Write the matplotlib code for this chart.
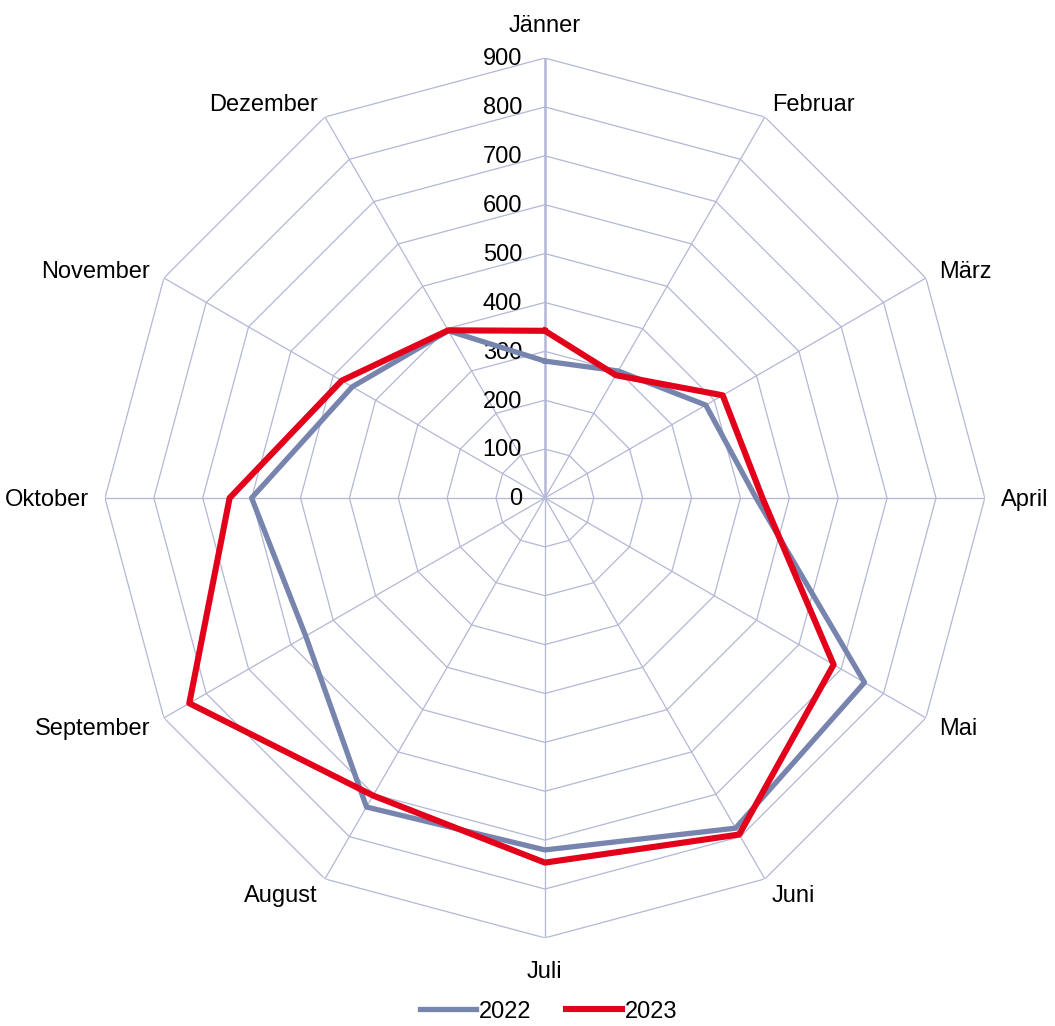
import numpy as np
import matplotlib
matplotlib.use('Agg')
import matplotlib.pyplot as plt

plt.rcParams['font.family'] = ['Liberation Sans', 'DejaVu Sans']

months = ['Jänner', 'Februar', 'März', 'April', 'Mai', 'Juni',
          'Juli', 'August', 'September', 'Oktober', 'November', 'Dezember']
v2022 = [280, 300, 380, 432, 755, 780, 720, 730, 565, 600, 455, 395]
v2023 = [342, 290, 420, 445, 682, 795, 746, 703, 840, 645, 480, 396]
rticks = [0, 100, 200, 300, 400, 500, 600, 700, 800, 900]

grid_c = '#b3b7d6'
c2022 = '#7784ad'
c2023 = '#e2001a'
fs = 17

n = len(months)
ang = np.linspace(0, 2 * np.pi, n, endpoint=False)
ang_c = np.append(ang, ang[0])

fig = plt.figure(figsize=(10.55, 10.26), dpi=100)
ax = fig.add_axes([0.0995, 0.0858, 0.834, 0.8577], projection='polar')
ax.set_theta_zero_location('N')
ax.set_theta_direction(-1)
ax.set_ylim(0, 900)
ax.grid(False)
ax.spines['polar'].set_visible(False)
ax.set_xticks([])
ax.set_yticks([])

# polygon rings
for r in rticks[1:]:
    ax.plot(ang_c, [r] * (n + 1), color=grid_c, lw=0.9, zorder=1)
# spokes
for i, a in enumerate(ang):
    ax.plot([a, a], [0, 900], color=grid_c, lw=1.8 if i == 0 else 0.9, zorder=1)

# value labels
for r in rticks:
    ax.annotate(str(r), xy=(0, r), xytext=(-16.5, -1), textcoords='offset points',
                ha='right', va='center', fontsize=fs, color='black')

# month labels, anchored at the outer vertex
pt = 72 / 100
for a, m in zip(ang, months):
    s, c = np.sin(a), np.cos(a)
    if abs(s) < 0.1:
        ha, dx, dy = 'center', 0, 33 * c - 1
    else:
        ha = 'left' if s > 0 else 'right'
        dx, dy = (16 * s + (-2 if s > 0 else 2) * (1 - abs(s))), 17 * c - 2.5
    ax.annotate(m, xy=(a, 900), xytext=(dx * pt, dy * pt), textcoords='offset points',
                ha=ha, va='center', fontsize=fs, color='black')

l1, = ax.plot(ang_c, v2022 + v2022[:1], color=c2022, lw=3.8, zorder=3, label='2022')
l2, = ax.plot(ang_c, v2023 + v2023[:1], color=c2023, lw=4.4, zorder=4, label='2023')

fig.legend(handles=[l1, l2], loc='center', bbox_to_anchor=(0.52, 0.014), ncol=2,
           frameon=False, fontsize=fs, handlelength=2.35, handletextpad=0.12,
           columnspacing=1.5)

fig.savefig('out.png', dpi=100)
